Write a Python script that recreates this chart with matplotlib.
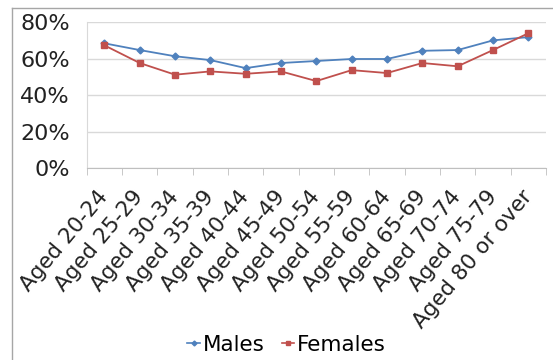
import matplotlib
matplotlib.use("Agg")
import matplotlib.pyplot as plt
from matplotlib.lines import Line2D
from matplotlib.ticker import FuncFormatter, FixedLocator
import numpy as np

categories = ["Aged 20-24", "Aged 25-29", "Aged 30-34", "Aged 35-39", "Aged 40-44",
              "Aged 45-49", "Aged 50-54", "Aged 55-59", "Aged 60-64", "Aged 65-69",
              "Aged 70-74", "Aged 75-79", "Aged 80 or over"]
males = [68.5, 64.8, 61.4, 59.3, 54.9, 57.7, 58.8, 59.9, 59.9, 64.4, 64.8, 70.1, 71.9]
females = [67.4, 57.7, 51.3, 53.1, 51.8, 53.1, 47.8, 53.8, 52.2, 57.7, 55.9, 64.8, 74.0]
yticks = [0, 20, 40, 60, 80]

blue = "#4F81BD"
red = "#C0504D"
font = ["DejaVu Sans"]

fig = plt.figure(figsize=(5.53, 3.6), dpi=100)
ax = fig.add_axes([0.1568, 0.5325, 0.8305, 0.4055])

x = np.arange(len(categories))
ax.plot(x, males, color=blue, lw=1.3, marker="D", ms=3.5, mec=blue, mfc=blue, label="Males", zorder=3)
ax.plot(x, females, color=red, lw=1.3, marker="s", ms=5, mec=red, mfc=red, label="Females", zorder=3)

ax.set_xlim(-0.5, len(categories) - 0.5)
ax.set_ylim(0, 80)
ax.set_yticks(yticks)
ax.yaxis.set_major_formatter(FuncFormatter(lambda v, p: f"{v:.0f}%"))
ax.grid(axis="y", color="#d9d9d9", lw=1)
ax.set_axisbelow(True)

for s in ["top", "right"]:
    ax.spines[s].set_visible(False)
ax.spines["left"].set_color("#d9d9d9")
ax.spines["bottom"].set_color("#bfbfbf")
ax.tick_params(axis="y", length=0, pad=12, labelsize=16, labelcolor="#222222")

ax.set_xticks(x)
ax.set_xticklabels(categories, rotation=50, ha="right", va="center", rotation_mode="anchor",
                   fontsize=15.5, color="#222222", family=font)
ax.tick_params(axis="x", which="major", length=0, pad=18)
ax.xaxis.set_minor_locator(FixedLocator(np.arange(-0.5, len(categories), 1.0)))
ax.tick_params(axis="x", which="minor", length=5, color="#bfbfbf", direction="out")
for lab in ax.get_yticklabels():
    lab.set_family(font)

handles = [Line2D([], [], color=blue, marker="D", ms=2.5, lw=1.2),
           Line2D([], [], color=red, marker="s", ms=3.5, lw=1.2)]
fig.legend(handles, ["Males", "Females"], loc="center", bbox_to_anchor=(0.518, 0.042),
           ncol=2, frameon=False, prop={"family": font, "size": 15.5},
           handlelength=0.6, handletextpad=0.1, columnspacing=0.8)

# chart area border
fig.add_artist(Line2D([12 / 553, 12 / 553], [0, 1 - 8 / 360], transform=fig.transFigure,
                      color="#a6a6a6", lw=1))
fig.add_artist(Line2D([12 / 553, 1], [1 - 8 / 360, 1 - 8 / 360], transform=fig.transFigure,
                      color="#a6a6a6", lw=1))

fig.savefig("out.png", dpi=100)
